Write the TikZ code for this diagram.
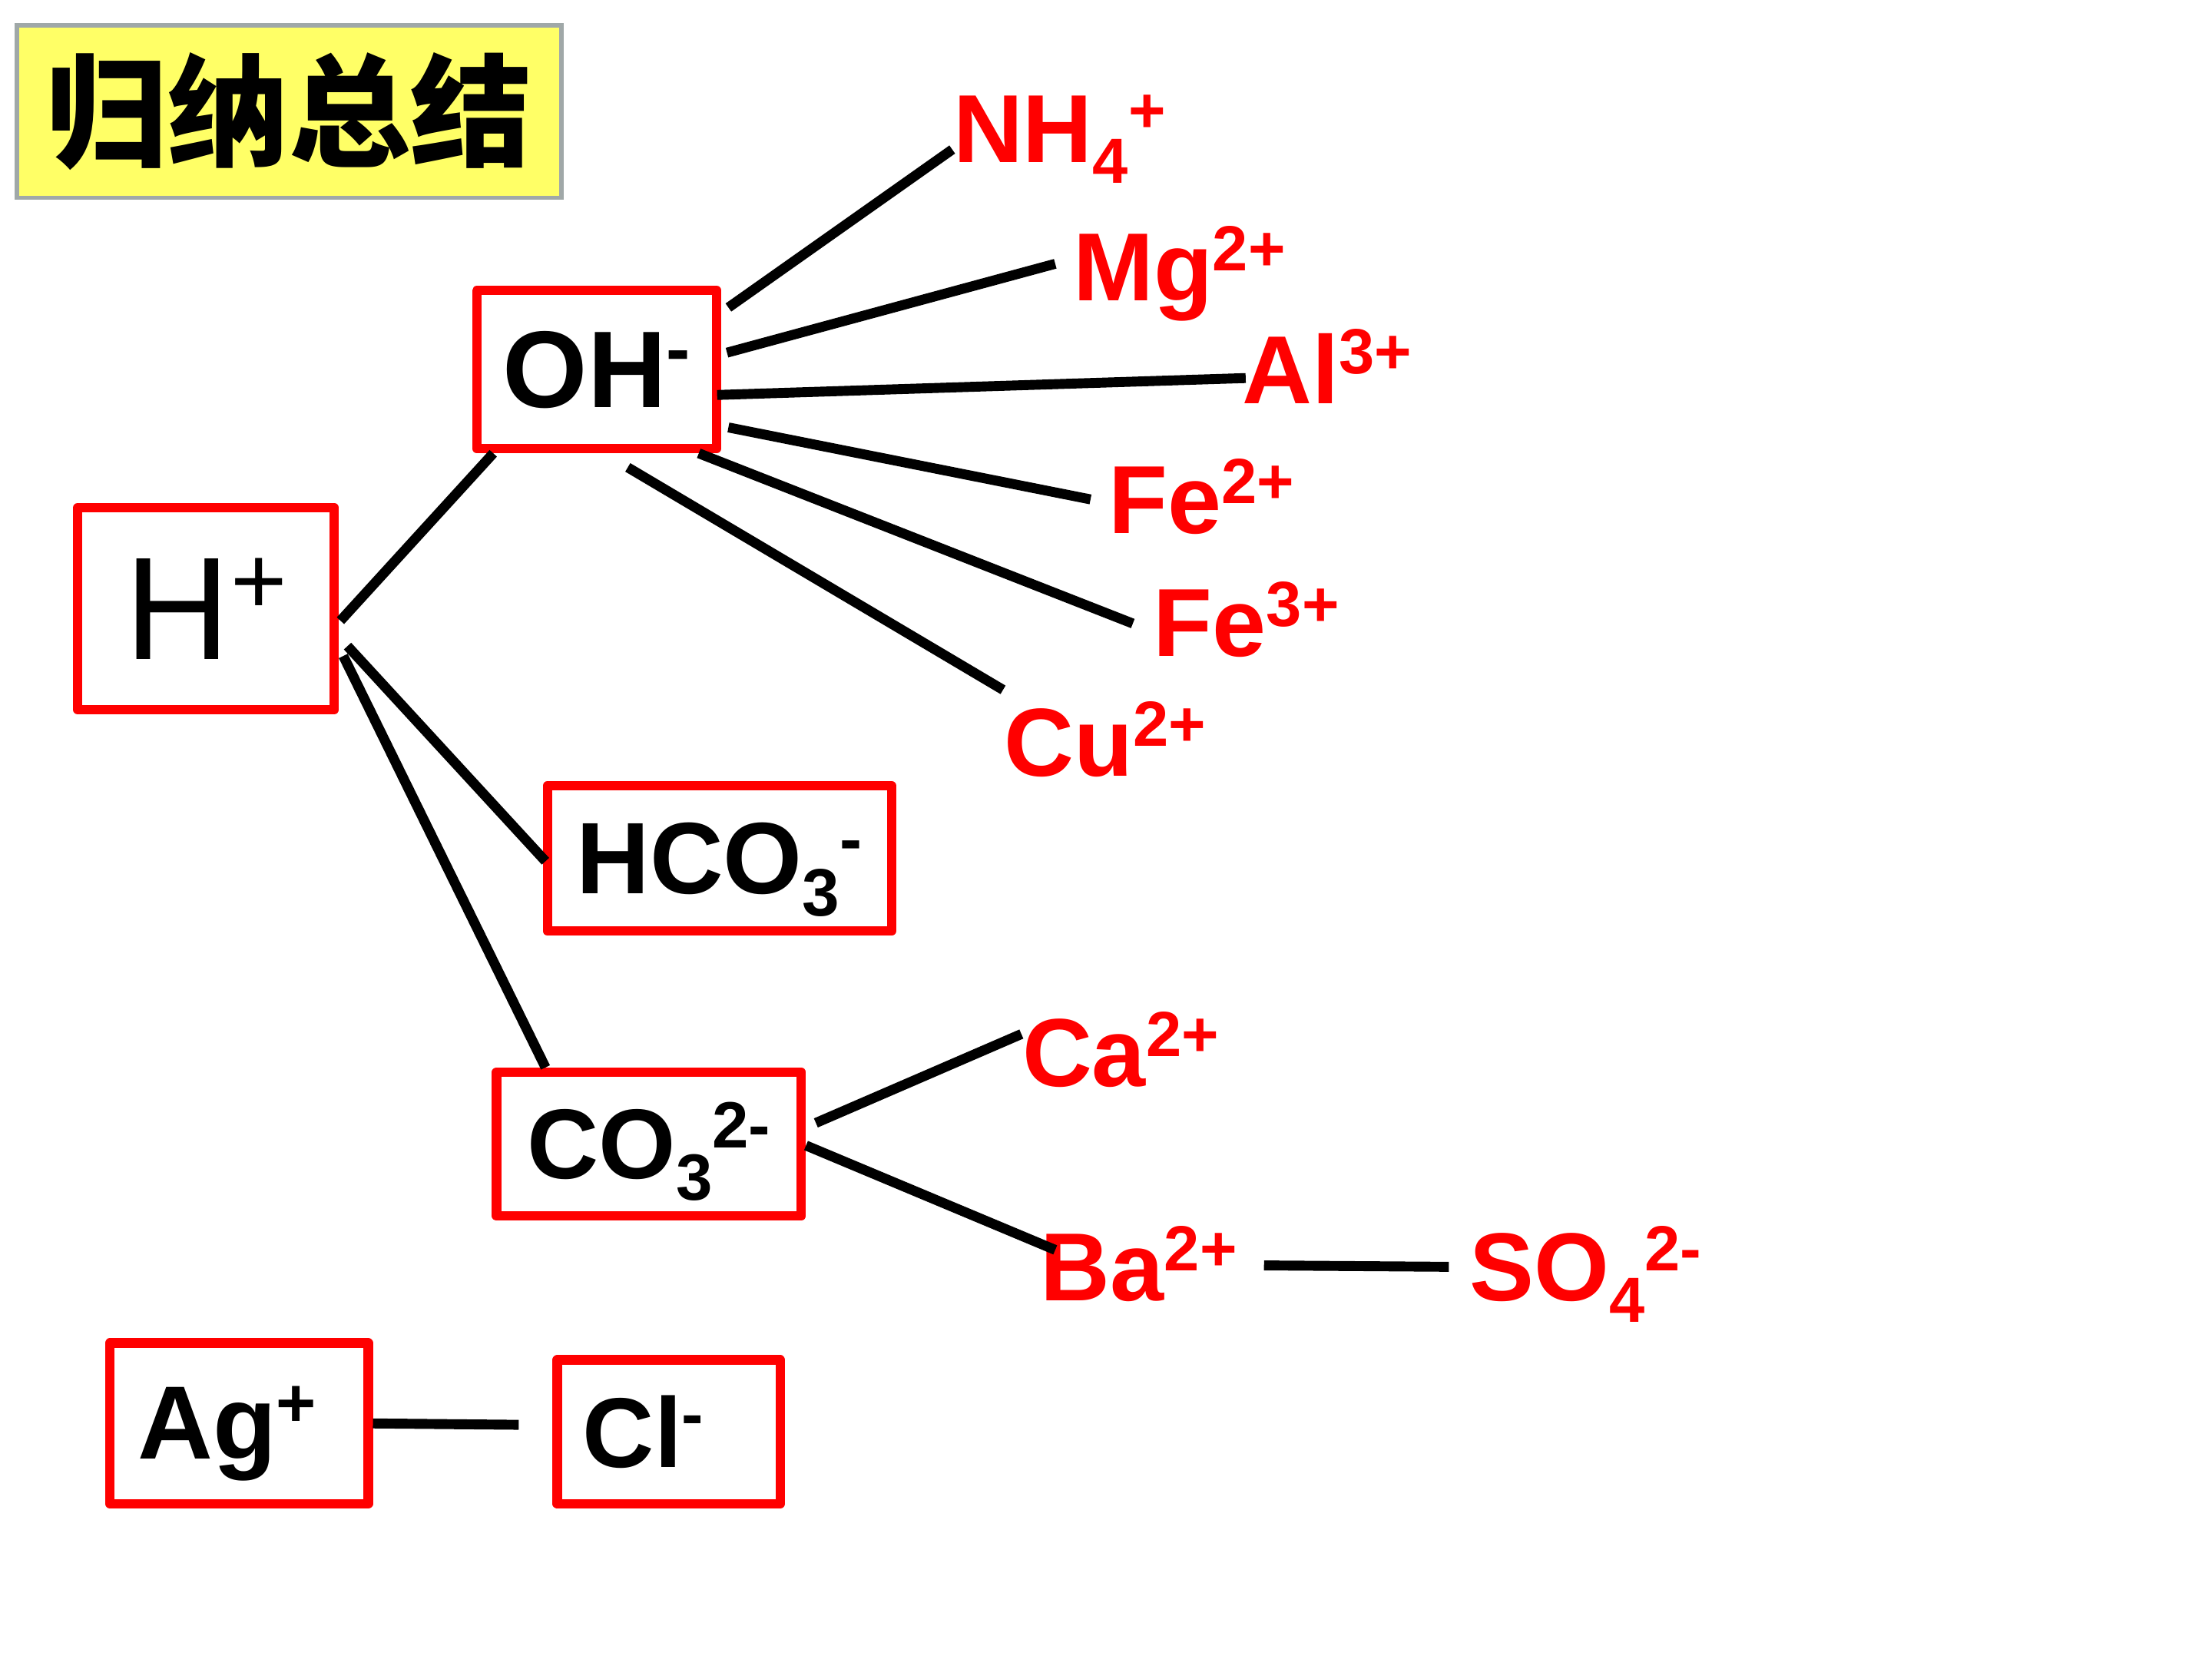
\documentclass[tikz,border=0pt]{standalone}
\usepackage{fontspec}
\setmainfont{Liberation Sans}
\newfontfamily\cjk{Noto Sans CJK SC}
\usetikzlibrary{positioning, calc}
\definecolor{ionred}{RGB}{255,0,0}
\definecolor{notegray}{RGB}{160,168,168}
\definecolor{noteyellow}{RGB}{255,255,102}
\newcommand{\ionup}[1]{\smash{\raisebox{0.31em}{\scalebox{0.66}{#1}}}}
\newcommand{\iondn}[1]{\smash{\raisebox{-0.22em}{\scalebox{0.66}{#1}}}}
\tikzset{
  ionbox/.style={rectangle, draw=ionred, line width=1.9pt, inner sep=0pt,
    line join=round, font=\bfseries\fontsize{20}{24}\selectfont},
  cation/.style={anchor=base west, inner sep=0pt, text=ionred,
    font=\bfseries\fontsize{19.5}{23}\selectfont},
  link/.style={line width=2pt, color=black}
}

\begin{document}
\begin{tikzpicture}
  \useasboundingbox (0,0) rectangle (15.68,-11.76);

  \node[draw=notegray, fill=noteyellow, line width=0.8pt, minimum width=3.86cm,
    minimum height=1.22cm, inner sep=0pt,
    font=\cjk\bfseries\fontsize{24.5}{28}\selectfont] (title) at (2.05,-0.79) {归纳总结};

  % boxed ions
  \node[ionbox, minimum width=1.70cm, minimum height=1.12cm,
    font=\bfseries\fontsize{22}{26}\selectfont] (oh) at (4.23,-2.62) {OH\ionup{-}};
  \node[ionbox, minimum width=1.82cm, minimum height=1.43cm,
    font=\fontsize{29.5}{34}\selectfont] (hp) at (1.46,-4.315) {H\ionup{+}};
  \node[ionbox, minimum width=2.44cm, minimum height=1.03cm,
    font=\bfseries\fontsize{20.5}{24}\selectfont] (hco) at (5.10,-6.085) {HCO\iondn{3}\ionup{-}};
  \node[ionbox, minimum width=2.16cm, minimum height=1.02cm] (co) at (4.60,-8.11) {CO\iondn{3}\ionup{2-}};
  \node[ionbox, minimum width=1.83cm, minimum height=1.14cm, text depth=0pt,
    font=\bfseries\fontsize{21}{25}\selectfont] (ag) at (1.695,-10.09) {Ag\ionup{+}\hspace*{0.17cm}};
  \node[ionbox, minimum width=1.58cm, minimum height=1.02cm] (cl) at (4.74,-10.15) {Cl\ionup{-}\hspace*{0.36cm}};

  % red partners
  \node[cation] (nh) at (6.75,-1.15) {NH\iondn{4}\ionup{+}};
  \node[cation] (mg) at (7.60,-2.13) {Mg\ionup{2+}};
  \node[cation] (al) at (8.80,-2.86) {Al\ionup{3+}};
  \node[cation] (fetwo) at (7.85,-3.78) {Fe\ionup{2+}};
  \node[cation] (fethree) at (8.17,-4.65) {Fe\ionup{3+}};
  \node[cation] (cu) at (7.11,-5.50) {Cu\ionup{2+}};
  \node[cation] (ca) at (7.24,-7.70) {Ca\ionup{2+}};
  \node[cation] (ba) at (7.37,-9.22) {Ba\ionup{2+}};
  \node[cation] (so) at (10.41,-9.22) {SO\iondn{4}\ionup{2-}};

  \draw[link] ([shift={(0.05,0.44)}]oh.east) -- ([shift={(0,0.09)}]nh.base west);
  \draw[link] ([shift={(0.04,0.12)}]oh.east) -- ([shift={(-0.12,0.26)}]mg.base west);
  \draw[link] ([shift={(-0.03,-0.18)}]oh.east) -- ([shift={(0.03,0.18)}]al.base west);
  \draw[link] ([shift={(0.05,-0.41)}]oh.east) -- ([shift={(-0.12,0.24)}]fetwo.base west);
  \draw[link] ([shift={(-0.16,0)}]oh.south east) -- ([shift={(-0.14,0.23)}]fethree.base west);
  \draw[link] ([shift={(0.22,-0.10)}]oh.south) -- ([shift={(0,0.61)}]cu.base west);

  \draw[link] ([shift={(0.01,-0.085)}]hp.east) -- ([shift={(0.15,0)}]oh.south west);
  \draw[link] ([shift={(0.06,-0.265)}]hp.east) -- ([shift={(0.02,-0.02)}]hco.west);
  \draw[link] ([shift={(0.03,-0.335)}]hp.east) -- ([shift={(0.38,0)}]co.north west);

  \draw[link] ([shift={(0.07,0.15)}]co.east) -- ([shift={(0,0.37)}]ca.base west);
  \draw[link] ([shift={(0,-0.01)}]co.east) -- ([shift={(0.11,0.36)}]ba.base west);
  \draw[link] ([shift={(1.59,0.25)}]ba.base west) -- ([shift={(-0.14,0.24)}]so.base west);

  \draw[link] (ag.east) -- ([shift={(-0.24,0.05)}]cl.west);
\end{tikzpicture}
\end{document}
